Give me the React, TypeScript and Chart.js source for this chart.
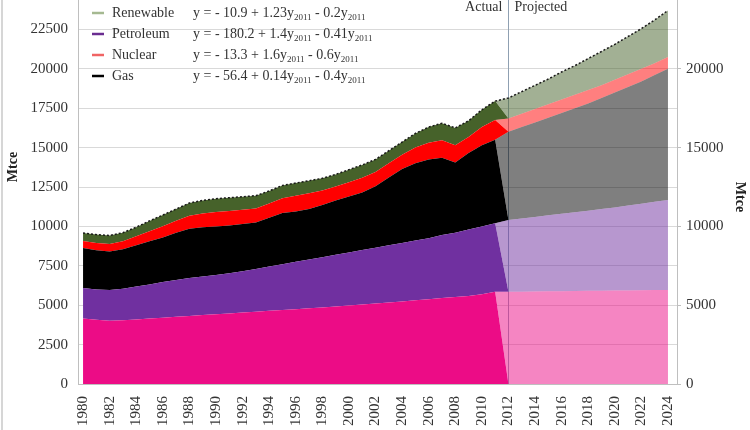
import React, { useEffect, useRef } from 'react';
import { Chart, registerables } from 'chart.js';

Chart.register(...registerables);

// ---------- DATA ----------
const years: number[] = [
  1980, 1981, 1982, 1983, 1984, 1985, 1986, 1987, 1988, 1989,
  1990, 1991, 1992, 1993, 1994, 1995, 1996, 1997, 1998, 1999,
  2000, 2001, 2002, 2003, 2004, 2005, 2006, 2007, 2008, 2009,
  2010, 2011, 2012, 2013, 2014, 2015, 2016, 2017, 2018, 2019,
  2020, 2021, 2022, 2023, 2024,
];
const xTickYears: number[] = [
  1980, 1982, 1984, 1986, 1988, 1990, 1992, 1994, 1996, 1998, 2000,
  2002, 2004, 2006, 2008, 2010, 2012, 2014, 2016, 2018, 2020, 2022, 2024,
];
const firstProjectedYear = 2012;

// Actual 1980-2011 (Mtce)
const coalActual = [4150, 4080, 4020, 4050, 4100, 4150, 4200, 4260, 4320, 4380, 4430, 4480, 4540, 4590, 4640, 4690, 4740, 4800, 4860, 4920, 4980, 5040, 5100, 5170, 5240, 5310, 5380, 5450, 5520, 5590, 5700, 5850];
const petroleumActual = [1940, 1920, 1940, 2000, 2080, 2170, 2280, 2340, 2400, 2440, 2490, 2550, 2610, 2710, 2810, 2910, 3010, 3100, 3190, 3280, 3370, 3460, 3550, 3630, 3710, 3790, 3870, 4000, 4080, 4210, 4300, 4350];
const gasActual = [2540, 2480, 2440, 2500, 2620, 2730, 2820, 3000, 3130, 3130, 3080, 3020, 3000, 2950, 3100, 3250, 3200, 3200, 3300, 3450, 3550, 3650, 3900, 4300, 4700, 4900, 5000, 4900, 4450, 4850, 5150, 5300];
const nuclearActual = [450, 470, 480, 510, 570, 650, 710, 760, 830, 870, 910, 920, 900, 890, 900, 940, 1000, 1000, 930, 880, 900, 930, 900, 900, 900, 1000, 1050, 1120, 1100, 1030, 1150, 1250];
const renewableActual = [500, 530, 540, 540, 580, 650, 710, 740, 800, 830, 850, 850, 830, 810, 800, 810, 800, 800, 770, 770, 800, 820, 800, 800, 800, 900, 1000, 1080, 1100, 1020, 1100, 1200];

// Projected 2012-2024 (Mtce)
const coalProjected = [5850, 5860, 5870, 5880, 5890, 5900, 5910, 5920, 5930, 5940, 5950, 5960, 5970];
const petroleumProjected = [4550, 4640, 4730, 4820, 4910, 5000, 5090, 5180, 5270, 5380, 5490, 5600, 5710];
const gasProjected = [5600, 5800, 6000, 6200, 6400, 6600, 6800, 7050, 7300, 7530, 7760, 8040, 8320];
const nuclearProjected = [850, 850, 850, 850, 850, 850, 850, 800, 800, 800, 800, 750, 750];
const renewableProjected = [1300, 1400, 1500, 1600, 1750, 1850, 2000, 2150, 2250, 2400, 2550, 2750, 2950];

const leftTicks = [0, 2500, 5000, 7500, 10000, 12500, 15000, 17500, 20000, 22500, 25000];
const rightTicks = [0, 5000, 10000, 15000, 20000, 25000];

const legendRows = [
  { label: 'Coal', color: '#EC1086', eq: [] as { t: string; sub?: boolean }[] },
  { label: 'Renewable', color: 'rgb(165,185,145)', eq: [{ t: 'y = - 10.9 + 1.23y' }, { t: '2011', sub: true }, { t: ' - 0.2y' }, { t: '2011', sub: true }] },
  { label: 'Petroleum', color: '#6A2C90', eq: [{ t: 'y = - 180.2 + 1.4y' }, { t: '2011', sub: true }, { t: ' - 0.41y' }, { t: '2011', sub: true }] },
  { label: 'Nuclear', color: 'rgb(240,100,100)', eq: [{ t: 'y = - 13.3 + 1.6y' }, { t: '2011', sub: true }, { t: ' - 0.6y' }, { t: '2011', sub: true }] },
  { label: 'Gas', color: '#000000', eq: [{ t: 'y = - 56.4 + 0.14y' }, { t: '2011', sub: true }, { t: ' - 0.4y' }, { t: '2011', sub: true }] },
];

// ---------- HELPERS ----------
const actualSeries = (arr: number[]) => years.map((yr, i) => ({ x: yr, y: i < arr.length ? arr[i] : 0 }));
const projectedSeries = (arr: number[]) =>
  years.map((yr) => ({ x: yr, y: yr >= firstProjectedYear ? arr[yr - firstProjectedYear] : 0 }));

const FONT = "'Liberation Serif', 'Times New Roman', serif";
const OFFSET = 40; // canvas is shifted up by this much

export default function App() {
  const ref = useRef<HTMLCanvasElement>(null);

  useEffect(() => {
    const totals = years.map((yr, i) =>
      yr >= firstProjectedYear
        ? coalProjected[yr - firstProjectedYear] + petroleumProjected[yr - firstProjectedYear] + gasProjected[yr - firstProjectedYear] + nuclearProjected[yr - firstProjectedYear] + renewableProjected[yr - firstProjectedYear]
        : coalActual[i] + petroleumActual[i] + gasActual[i] + nuclearActual[i] + renewableActual[i]
    );

    const area = (label: string, data: any[], color: string, fill: any) => ({
      label,
      data,
      backgroundColor: color,
      borderColor: color,
      borderWidth: 0,
      pointRadius: 0,
      tension: 0,
      fill,
      stack: 'energy',
    });

    const textPlugin = {
      id: 'texts',
      beforeDatasetsDraw(chart: any) {
        const { ctx, chartArea, scales } = chart;
        const x = scales.x.getPixelForValue(firstProjectedYear);
        ctx.save();
        ctx.strokeStyle = '#8fa0b2';
        ctx.lineWidth = 1;
        ctx.beginPath();
        ctx.moveTo(Math.round(x) + 0.5, chartArea.top);
        ctx.lineTo(Math.round(x) + 0.5, chartArea.bottom);
        ctx.stroke();
        ctx.restore();
      },
      afterDraw(chart: any) {
        const { ctx, scales } = chart;
        const xv = scales.x.getPixelForValue(firstProjectedYear);
        ctx.save();
        ctx.fillStyle = '#333';
        ctx.font = `14px ${FONT}`;
        ctx.textBaseline = 'middle';
        ctx.textAlign = 'right';
        ctx.fillText('Actual', xv - 6, 7 + OFFSET);
        ctx.textAlign = 'left';
        ctx.fillText('Projected', xv + 6, 7 + OFFSET);

        // legend
        legendRows.forEach((row, i) => {
          const cy = -8 + i * 21 + OFFSET;
          ctx.strokeStyle = row.color;
          ctx.lineWidth = 2.5;
          ctx.beginPath();
          ctx.moveTo(92, cy);
          ctx.lineTo(104, cy);
          ctx.stroke();
          ctx.fillStyle = '#333';
          ctx.font = `14px ${FONT}`;
          ctx.textAlign = 'left';
          ctx.fillText(row.label, 112, cy);
          let px = 193;
          row.eq.forEach((p) => {
            if (p.sub) {
              ctx.font = `9px ${FONT}`;
              ctx.fillText(p.t, px, cy + 5);
            } else {
              ctx.font = `14px ${FONT}`;
              ctx.fillText(p.t, px, cy);
            }
            px += ctx.measureText(p.t).width;
          });
        });

        // axis titles
        ctx.fillStyle = '#222';
        ctx.font = `bold 14px ${FONT}`;
        ctx.textAlign = 'center';
        ctx.save();
        ctx.translate(13, 167 + OFFSET);
        ctx.rotate(-Math.PI / 2);
        ctx.fillText('Mtce', 0, 0);
        ctx.restore();
        ctx.save();
        ctx.translate(740, 197 + OFFSET);
        ctx.rotate(Math.PI / 2);
        ctx.fillText('Mtce', 0, 0);
        ctx.restore();
        ctx.restore();
      },
    };

    const chart = new Chart(ref.current as HTMLCanvasElement, {
      type: 'line',
      data: {
        datasets: [
          area('Coal (actual)', actualSeries(coalActual), '#EC0C86', 'origin'),
          area('Coal (projected)', projectedSeries(coalProjected), 'rgba(236,12,134,0.5)', '-1'),
          area('Petroleum (actual)', actualSeries(petroleumActual), '#7030A0', '-1'),
          area('Petroleum (projected)', projectedSeries(petroleumProjected), 'rgba(112,48,160,0.5)', '-1'),
          area('Gas (actual)', actualSeries(gasActual), '#000000', '-1'),
          area('Gas (projected)', projectedSeries(gasProjected), 'rgba(0,0,0,0.5)', '-1'),
          area('Nuclear (actual)', actualSeries(nuclearActual), '#FF0000', '-1'),
          area('Nuclear (projected)', projectedSeries(nuclearProjected), 'rgba(255,0,0,0.5)', '-1'),
          area('Renewable (actual)', actualSeries(renewableActual), '#46622A', '-1'),
          area('Renewable (projected)', projectedSeries(renewableProjected), 'rgba(70,98,42,0.5)', '-1'),
          {
            label: 'Total',
            data: years.map((yr, i) => ({ x: yr, y: totals[i] })),
            borderColor: '#1a1a1a',
            borderWidth: 1.5,
            borderDash: [2, 2],
            pointRadius: 0,
            fill: false,
            stack: 'outline',
            order: -1,
          } as any,
        ] as any,
      },
      options: {
        responsive: false,
        devicePixelRatio: 1,
        animation: false,
        layout: { padding: { top: 30, left: 0, right: 0, bottom: 0 } },
        plugins: { legend: { display: false }, tooltip: { enabled: false }, title: { display: false } },
        font: { family: FONT } as any,
        scales: {
          x: {
            type: 'linear',
            min: 1979.62,
            max: 2024.68,
            afterBuildTicks: (s: any) => {
              s.ticks = xTickYears.map((v) => ({ value: v }));
            },
            afterFit: (s: any) => {
              s.height = 46;
            },
            ticks: {
              autoSkip: false,
              minRotation: 90,
              maxRotation: 90,
              padding: 12,
              color: '#333',
              font: { family: FONT, size: 15 },
              callback: (v: any) => String(v),
            },
            grid: { drawOnChartArea: false, drawTicks: false, color: '#BFBFBF' },
            border: { display: true, color: '#BFBFBF' },
          },
          y: {
            type: 'linear',
            position: 'left',
            stacked: true,
            min: 0,
            max: 25000,
            afterBuildTicks: (s: any) => {
              s.ticks = leftTicks.map((v) => ({ value: v }));
            },
            afterFit: (s: any) => {
              s.width = 78;
            },
            ticks: {
              padding: 10,
              color: '#333',
              font: { family: FONT, size: 15 },
              callback: (v: any) => String(v),
            },
            grid: { color: '#D9D9D9', drawTicks: false },
            border: { display: true, color: '#BFBFBF' },
          },
          y1: {
            type: 'linear',
            position: 'right',
            min: 0,
            max: 25000,
            afterBuildTicks: (s: any) => {
              s.ticks = rightTicks.map((v) => ({ value: v }));
            },
            afterFit: (s: any) => {
              s.width = 73;
            },
            ticks: {
              padding: 5,
              color: '#333',
              font: { family: FONT, size: 15 },
              callback: (v: any) => String(v),
            },
            grid: { drawOnChartArea: false, drawTicks: true, tickLength: 4, color: '#BFBFBF' },
            border: { display: true, color: '#BFBFBF' },
          },
        },
      } as any,
      plugins: [textPlugin],
    });

    return () => chart.destroy();
  }, []);

  return (
    <div style={{ position: 'absolute', left: 0, top: 0, width: 750, height: 430, overflow: 'hidden', background: '#fff' }}>
      <canvas
        ref={ref}
        width={750}
        height={470}
        style={{ position: 'absolute', left: 0, top: -OFFSET, width: 750, height: 470 }}
      />
      <div style={{ position: 'absolute', left: 1, top: 0, width: 2, height: 430, background: '#d6d6d6' }} />
    </div>
  );
}
